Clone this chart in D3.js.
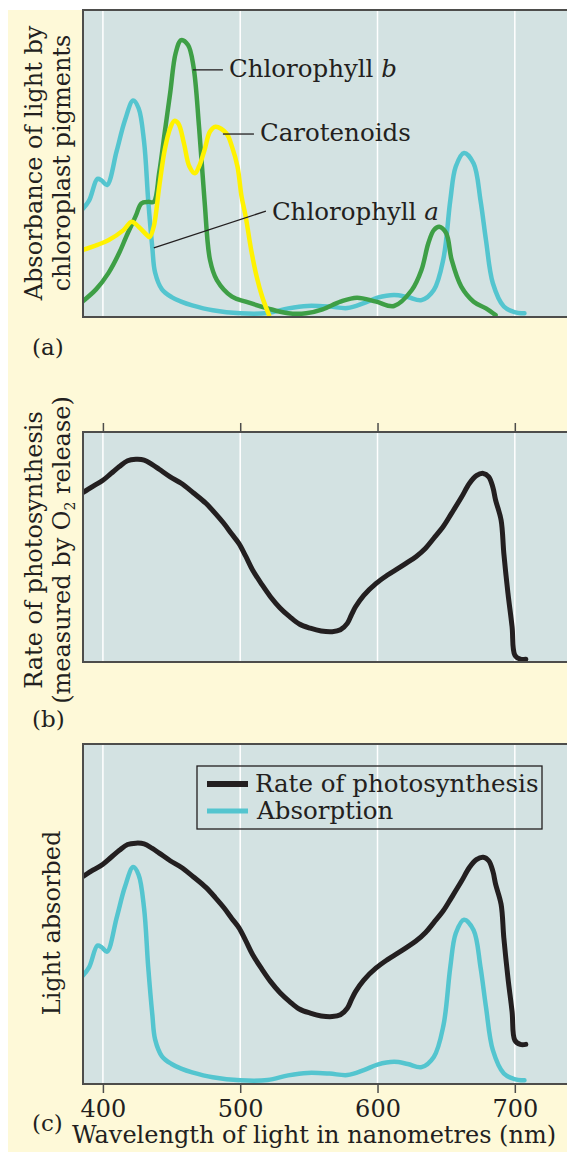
<!DOCTYPE html>
<meta charset="utf-8">
<style>
body { margin: 0; background: #fff; }
svg { display: block; }
text { font-family: "DejaVu Serif", serif; fill: #231f20; }
</style>
<body>
<script src="https://d3js.org/d3.v7.min.js"></script>
<script>

var width = 567,
    height = 1155;

// panel (a): absorbance of the pigments, wavelength in nm
var chlAWave  = [385, 390, 396, 399, 403, 410, 416, 422, 426, 430, 433, 436, 438, 443, 450, 457, 465, 480, 500, 520, 535, 549, 565, 578, 590, 600, 612, 622, 632, 641, 648, 653, 657, 663, 670, 675, 679, 684, 692, 699, 707];
var chlAValue = [35, 38, 45, 44.5, 43, 54, 64, 70.5, 68, 57, 38, 22.5, 14.5, 9, 6.5, 5, 3.8, 2.2, 1.2, 1.3, 2.8, 3.6, 3.4, 2.9, 4.5, 6.3, 7.2, 6.5, 5.5, 8.8, 19, 38, 49, 53.4, 50, 38, 25, 11, 3.4, 1.7, 1.2];

var chlBWave  = [385, 395, 404, 412, 417, 424, 428, 433, 437, 441, 445, 449, 453, 457, 462, 466, 470, 474, 478, 483, 494, 504, 520, 535, 548, 560, 573, 585, 599, 612, 625, 632, 637, 641, 645, 650, 654, 661, 670, 679, 686];
var chlBValue = [5, 9, 14.3, 21, 26.2, 33, 37, 37.5, 37.5, 47, 60, 73, 86, 90.2, 88.6, 81.5, 62, 38, 18.6, 12, 6.6, 5, 2.8, 1.2, 1.2, 2.5, 5, 6.3, 5, 3.6, 8.8, 15.3, 24, 28.3, 29.4, 27.3, 18.6, 9.9, 5, 2.8, 0.6];

var carWave  = [385, 396, 404, 415, 421, 426, 432, 434, 437, 441, 445, 449, 452, 455, 459, 463, 467, 470, 474, 478, 482, 490, 494, 498, 501, 504, 508, 512, 516, 521];
var carValue = [21.8, 23.5, 25, 28.3, 31, 29.4, 26.7, 26, 29.4, 42.4, 54.4, 61.5, 63.9, 63, 56.6, 49, 46.8, 49, 54.4, 60.4, 62, 59.8, 55.5, 49, 39.2, 32.7, 21.8, 13.1, 6.6, 0.6];

// panel (b): rate of photosynthesis
var rateWave  = [385, 393, 400, 406, 412, 418, 424, 430, 436, 441, 449, 457, 466, 475, 482, 488, 494, 499, 504, 509, 516, 522, 529, 536, 543, 551, 559, 567, 573, 578, 581, 584, 590, 599, 607, 615, 621, 628, 635, 641, 648, 654, 661, 667, 672, 677, 681, 684, 686, 690, 692, 695, 698, 700, 704, 708];
var rateValue = [73.5, 76.5, 79, 82, 85, 87.5, 88.1, 87.8, 85.8, 83.8, 80.5, 77.7, 73.5, 69, 64.5, 60.3, 55.5, 51.6, 46, 40, 33.5, 28.4, 23.5, 19.7, 16.5, 14.7, 13.5, 13.2, 14, 16.8, 20.5, 24, 29, 34.2, 37.7, 40.7, 43, 45.8, 49.5, 53.8, 59, 64.7, 71.5, 77.7, 81, 82, 80.5, 76, 70.4, 61.7, 47.2, 29.9, 15.3, 3, 1.2, 1.2];

var tickValues = [400, 500, 600, 700];
var pigmentNames = ["Chlorophyll b", "Carotenoids", "Chlorophyll a"];
var legendNames = ["Rate of photosynthesis", "Absorption"];

var cyan = "#54c5cf", green = "#3e9f46", yellow = "#fff200", ink = "#231f20";
var fs = 24;

var svg = d3.select("body").append("svg")
    .attr("width", width)
    .attr("height", height);

svg.append("rect")
    .attr("x", 8).attr("y", 10)
    .attr("width", width - 8).attr("height", 1142)
    .attr("fill", "#fef9d8");

var left = 83, right = width;
var x = d3.scaleLinear().domain([385.5, 738]).range([left, right]);

var panels = [
    {name: "(a)", top: 10, bottom: 317},
    {name: "(b)", top: 432, bottom: 662},
    {name: "(c)", top: 744, bottom: 1084}
];

panels.forEach(function(p, i) {
    svg.append("clipPath").attr("id", "clip" + i)
      .append("rect")
        .attr("x", left).attr("y", p.top)
        .attr("width", right - left).attr("height", p.bottom - p.top);

    svg.append("rect")
        .attr("x", left).attr("y", p.top)
        .attr("width", right - left).attr("height", p.bottom - p.top)
        .attr("fill", "#d3e2e2");

    svg.append("g").selectAll("line")
        .data(tickValues)
        .enter().append("line")
          .attr("x1", d => x(d)).attr("x2", d => x(d))
          .attr("y1", p.top).attr("y2", p.bottom)
          .attr("stroke", "#fff")
          .attr("stroke-width", 1.5);

    p.g = svg.append("g").attr("clip-path", "url(#clip" + i + ")");
});

function frame(p) {
    svg.append("path")
        .attr("d", "M" + right + "," + p.top + "H" + left + "V" + p.bottom + "H" + right)
        .attr("fill", "none")
        .attr("stroke", "#4d4d4b")
        .attr("stroke-width", 2);
}

function drawLine(g, wave, value, y, color, w) {
    var line = d3.line()
        .x(d => x(d[0]))
        .y(d => y(d[1]))
        .curve(d3.curveCatmullRom.alpha(0.5));
    g.append("path")
        .datum(d3.zip(wave, value))
        .attr("d", line)
        .attr("fill", "none")
        .attr("stroke", color)
        .attr("stroke-width", w)
        .attr("stroke-linejoin", "round")
        .attr("stroke-linecap", "round");
}

// ---- panel (a)
var pa = panels[0];
var ya = d3.scaleLinear().domain([0, 100]).range([pa.bottom, pa.top]);
drawLine(pa.g, chlAWave, chlAValue, ya, cyan, 4.5);
drawLine(pa.g, chlBWave, chlBValue, ya, green, 4.5);
drawLine(pa.g, carWave, carValue, ya, yellow, 4.5);
frame(pa);

// leader labels: start point on curve [nm, value], end of leader [nm, value]
var leaders = [
    {from: [465.5, 80.5], to: [487.4, 80.5], text: pigmentNames[0], ty: 77},
    {from: [487.4, 59.6], to: [510, 59.6], text: pigmentNames[1], ty: 141},
    {from: [437.1, 22.5], to: [518.7, 34.5], text: pigmentNames[2], ty: 220}
];
leaders.forEach(function(l) {
    svg.append("line")
        .attr("x1", x(l.from[0])).attr("y1", ya(l.from[1]))
        .attr("x2", x(l.to[0])).attr("y2", ya(l.to[1]))
        .attr("stroke", ink).attr("stroke-width", 1.3);
    var words = l.text.split(" ");
    var t = svg.append("text")
        .attr("x", x(l.to[0]) + 6)
        .attr("y", l.ty)
        .attr("font-size", 24.5);
    t.append("tspan").text(words[0]);
    if (words[1]) t.append("tspan").attr("font-style", "italic").text(" " + words[1]);
});

// ---- panel (b)
var pb = panels[1];
var yb = d3.scaleLinear().domain([0, 100]).range([pb.bottom, pb.top]);
drawLine(pb.g, rateWave, rateValue, yb, ink, 5);
frame(pb);
svg.append("g")
    .attr("transform", "translate(0," + pb.top + ")")
    .call(d3.axisTop(x).tickValues(tickValues).tickSize(9).tickFormat(""))
    .call(g => g.select(".domain").remove())
    .call(g => g.selectAll("line").attr("stroke", "#4d4d4b").attr("stroke-width", 1.5));

// ---- panel (c)
var pc = panels[2];
var ycRate = d3.scaleLinear().domain([-15.9, 130.9]).range([pc.bottom, pc.top]);
var ycAbs = d3.scaleLinear().domain([0, 110.5]).range([pc.bottom, pc.top]);
drawLine(pc.g, chlAWave, chlAValue, ycAbs, cyan, 4.5);
drawLine(pc.g, rateWave, rateValue, ycRate, ink, 5);
frame(pc);
svg.append("g")
    .attr("transform", "translate(0," + pc.bottom + ")")
    .call(d3.axisBottom(x).tickValues(tickValues).tickSize(9).tickPadding(7))
    .call(g => g.select(".domain").remove())
    .call(g => g.selectAll("line").attr("stroke", "#4d4d4b").attr("stroke-width", 1.5))
    .call(g => g.selectAll("text")
        .attr("font-family", "DejaVu Serif, serif")
        .attr("font-size", 24)
        .attr("fill", ink));

svg.append("text")
    .attr("x", 314).attr("y", 1143)
    .attr("text-anchor", "middle")
    .attr("font-size", fs)
    .text("Wavelength of light in nanometres (nm)");

// legend
var legend = svg.append("g");
legend.append("rect")
    .attr("x", 197).attr("y", 766)
    .attr("width", 345).attr("height", 63)
    .attr("fill", "none")
    .attr("stroke", ink).attr("stroke-width", 1.3);
legend.selectAll("line.key")
    .data(legendNames)
    .enter().append("line")
      .attr("x1", 207).attr("x2", 248)
      .attr("y1", (d, i) => 784 + i * 27).attr("y2", (d, i) => 784 + i * 27)
      .attr("stroke", (d, i) => i ? cyan : ink)
      .attr("stroke-width", (d, i) => i ? 5 : 6);
legend.selectAll("text")
    .data(legendNames)
    .enter().append("text")
      .attr("x", (d, i) => 255 + i * 2)
      .attr("y", (d, i) => 792 + i * 27)
      .attr("font-size", 24.5)
      .text(d => d);

// panel letters
svg.selectAll("text.letter")
    .data([[panels[0].name, 355], [panels[1].name, 727], [panels[2].name, 1131]])
    .enter().append("text")
      .attr("x", 32).attr("y", d => d[1])
      .attr("font-size", 23)
      .text(d => d[0]);

// y axis titles
function yTitle(lines, cy) {
    lines.forEach(function(l) {
        var t = svg.append("text")
            .attr("transform", "translate(" + l.x + "," + cy + ") rotate(-90)")
            .attr("text-anchor", "middle")
            .attr("font-size", fs);
        l.parts.forEach(function(s) {
            var ts = t.append("tspan").text(s.t);
            if (s.sub) ts.attr("font-size", 14).attr("dy", 5);
            if (s.back) ts.attr("dy", -5);
        });
    });
}
yTitle([{x: 42, parts: [{t: "Absorbance of light by"}]},
        {x: 70, parts: [{t: "chloroplast pigments"}]}], 163);
yTitle([{x: 42, parts: [{t: "Rate of photosynthesis"}]},
        {x: 70, parts: [{t: "(measured by O"}, {t: "2", sub: true}, {t: " release)", back: true}]}], 550);
yTitle([{x: 60, parts: [{t: "Light absorbed"}]}], 923);

</script>
